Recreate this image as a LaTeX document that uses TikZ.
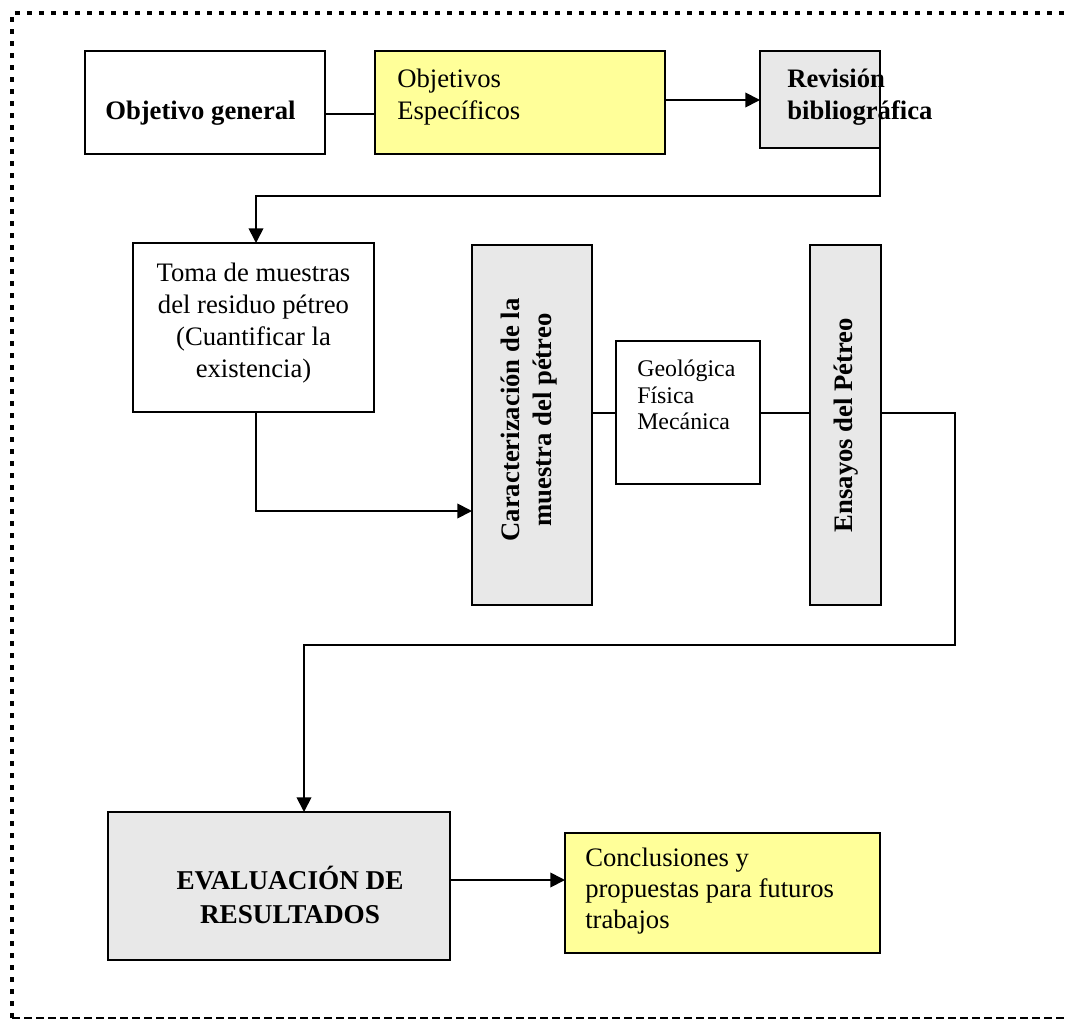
\documentclass[tikz,border=0pt]{standalone}
\usepackage{fontspec}
\setmainfont{Liberation Serif}
\usetikzlibrary{arrows.meta}
\definecolor{paleyellow}{HTML}{FFFF99}
\definecolor{panelgray}{HTML}{E8E8E8}
\begin{document}
\begin{tikzpicture}[x=0.75pt,y=-0.75pt,
  box/.style={draw=black, line width=1.3pt, anchor=north west, inner sep=0pt, outer sep=0pt},
  yellowbox/.style={box, fill=paleyellow},
  graybox/.style={box, fill=panelgray},
  txt/.style={inner sep=0pt, font=\fontsize{20}{24}\selectfont},
  boldtxt/.style={inner sep=0pt, font=\fontsize{20}{24}\selectfont\bfseries},
  smalltxt/.style={inner sep=0pt, font=\fontsize{17.9}{20}\selectfont},
  link/.style={line width=1.3pt},
  arrowlink/.style={link, -{Triangle[length=11pt,width=11pt]}},
  dotborder/.style={line width=3.4pt, dash pattern=on 3.6pt off 5.4pt},
  dashborder/.style={line width=1.8pt, dash pattern=on 6pt off 3pt}]
\useasboundingbox (0,0) rectangle (1066,1020);

% frame: dotted on top and left, dashed along the bottom
\draw[dotborder] (12,1018) -- (12,13) -- (1066,13);
\draw[dashborder] (12,1018) -- (1066,1018);

% boxes
\node[box, minimum width=180pt, minimum height=77.25pt] (og) at (85,51) {};
\node[yellowbox, minimum width=217.5pt, minimum height=77.25pt] (oe) at (375,51) {};
\node[graybox, minimum width=90pt, minimum height=72.75pt] (rb) at (760,51) {};
\node[box, minimum width=180.75pt, minimum height=126.75pt] (tm) at (133,243) {};
\node[graybox, minimum width=90pt, minimum height=270pt] (cm) at (472,245) {};
\node[box, minimum width=108pt, minimum height=107.25pt] (gf) at (616,341) {};
\node[graybox, minimum width=53.25pt, minimum height=270pt] (ep) at (810,245) {};
\node[graybox, minimum width=256.5pt, minimum height=111pt] (er) at (108,812) {};
\node[yellowbox, minimum width=236.25pt, minimum height=90pt] (cp) at (565,833) {};

% texts
\node[boldtxt, anchor=west] (ogt) at (105,113) {Objetivo general};
\node[txt, anchor=west, align=left] (oet) at (397,97) {Objetivos\\Específicos};
\node[boldtxt, anchor=west, align=left] (rbt) at (787,97) {Revisión\\bibliográfica};
\node[txt, align=center] (tmt) at (253.5,323) {Toma de muestras\\del residuo pétreo\\(Cuantificar la\\existencia)};
\node[boldtxt, align=center, rotate=90] (cmt) at (529,420) {Caracterización de la\\muestra del pétreo};
\node[boldtxt, rotate=90] (ept) at (846,425) {Ensayos del Pétreo};
\node[smalltxt, anchor=west, align=left] (gft) at (637,395) {Geológica\\Física\\Mecánica};
\node[inner sep=0pt, align=center, font=\fontsize{20.4}{25.5}\selectfont\bfseries] (ert) at (290,895) {EVALUACIÓN DE\\RESULTADOS};
\node[txt, anchor=west, align=left, font=\fontsize{20}{23.25}\selectfont] (cpt) at (585,891) {Conclusiones y\\propuestas para futuros\\trabajos};

% connectors
\draw[link] (og.east |- 0,114) -- (oe.west |- 0,114);
\draw[arrowlink] (oe.east |- 0,100) -- (rb.west |- 0,100);
\draw[arrowlink] (rb.south -| 880,0) -- (880,196) -- (256,196) -- (tm.north -| 256,0);
\draw[arrowlink] (tm.south -| 256,0) -- (256,511) -- (cm.west |- 0,511);
\draw[link] (cm.east |- 0,413) -- (gf.west |- 0,413);
\draw[link] (gf.east |- 0,413) -- (ep.west |- 0,413);
\draw[arrowlink] (ep.east |- 0,413) -- (955,413) -- (955,645) -- (304,645) -- (er.north -| 304,0);
\draw[arrowlink] (er.east |- 0,880) -- (cp.west |- 0,880);
\end{tikzpicture}
\end{document}
